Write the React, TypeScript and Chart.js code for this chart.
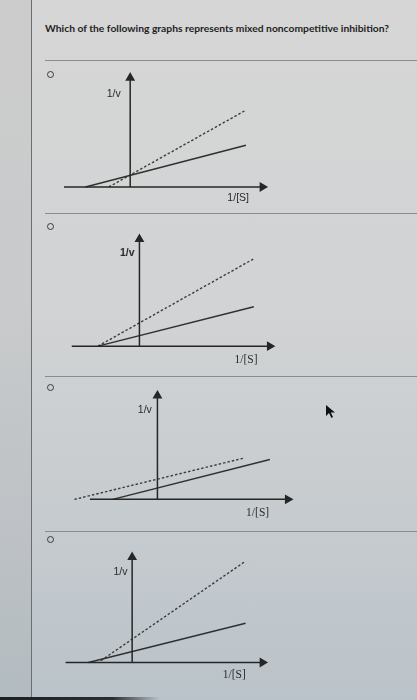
import { useEffect, useRef } from "react";
import { Chart, registerables, type Plugin } from "chart.js";

Chart.register(...registerables);

// Lineweaver-Burk sketches, in axis units (origin = where the two axes cross)
const axisA = { xFrom: -3.4, xTo: 6.8, yTo: 5.9 };
const solidA = [
  { x: -2.3, y: 0 },
  { x: 5.95, y: 2.25 },
];
const dashedA = [
  { x: -1.1, y: 0 },
  { x: 5.95, y: 4.15 },
];

const axisB = { xFrom: -3.48, xTo: 6.7, yTo: 5.75 };
const solidB = [
  { x: -2.13, y: 0 },
  { x: 5.88, y: 2.12 },
];
const dashedB = [
  { x: -2.13, y: 0 },
  { x: 5.88, y: 4.7 },
];

const axisC = { xFrom: -3.47, xTo: 6.7, yTo: 5.6 };
const solidC = [
  { x: -2.3, y: 0 },
  { x: 5.78, y: 2.15 },
];
const dashedC = [
  { x: -4.27, y: 0 },
  { x: 4.45, y: 2.23 },
];

const axisD = { xFrom: -3.42, xTo: 6.7, yTo: 5.65 };
const solidD = [
  { x: -2.25, y: 0 },
  { x: 5.83, y: 2.1 },
];
const dashedD = [
  { x: -1.6, y: 0.1 },
  { x: 5.75, y: 5.38 },
];

const yLabelPos = [
  { x: -0.85, y: 5.0 },
  { x: -0.63, y: 5.0 },
  { x: -0.65, y: 4.8 },
  { x: -0.6, y: 4.85 },
];
const xLabelPos = [
  { x: 5.55, y: -0.58 },
  { x: 5.48, y: -0.75 },
  { x: 5.15, y: -0.75 },
  { x: 5.25, y: -0.7 },
];

const QUESTION = "Which of the following graphs represents mixed noncompetitive inhibition?";

// page layout (pixels)
const UNIT = 20;
const PANELS = [
  { top: 61, height: 152, ox: 128, oy: 191, radio: 74, sansX: true, boldY: false },
  { top: 214, height: 162, ox: 137.5, oy: 350, radio: 226, sansX: false, boldY: true },
  { top: 377, height: 154, ox: 156, oy: 503, radio: 387, sansX: false, boldY: false },
  { top: 532, height: 165, ox: 130, oy: 666, radio: 539, sansX: false, boldY: false },
];
const SEPARATORS = [60, 213, 376, 531];

type Pt = { x: number; y: number };
type Axis = { xFrom: number; xTo: number; yTo: number };

interface PlotProps {
  index: number;
  axis: Axis;
  solid: Pt[];
  dashed: Pt[];
}

function LBPlot({ index, axis, solid, dashed }: PlotProps) {
  const canvasRef = useRef<HTMLCanvasElement>(null);
  const chartRef = useRef<Chart | null>(null);
  const p = PANELS[index];

  useEffect(() => {
    if (!canvasRef.current) return;

    const labels: Plugin<"scatter"> = {
      id: "axisLabels",
      afterDatasetsDraw(chart) {
        const { ctx, scales } = chart;
        ctx.save();
        ctx.fillStyle = "#2a2a2a";
        ctx.textAlign = "center";
        ctx.textBaseline = "middle";
        const yl = yLabelPos[index];
        ctx.font = `${p.boldY ? "bold " : ""}10.5px "Liberation Sans", Arial, sans-serif`;
        ctx.fillText("1/v", scales.x.getPixelForValue(yl.x), scales.y.getPixelForValue(yl.y));
        const xl = xLabelPos[index];
        ctx.font = p.sansX
          ? '10.5px "Liberation Sans", Arial, sans-serif'
          : '11.5px "Liberation Serif", "Times New Roman", serif';
        ctx.fillText("1/[S]", scales.x.getPixelForValue(xl.x), scales.y.getPixelForValue(xl.y));
        ctx.restore();
      },
    };

    const ink = "#262626";
    chartRef.current = new Chart(canvasRef.current, {
      type: "scatter",
      data: {
        datasets: [
          {
            data: [
              { x: axis.xFrom, y: 0 },
              { x: axis.xTo, y: 0 },
            ],
            showLine: true,
            borderColor: ink,
            backgroundColor: ink,
            borderWidth: 1.5,
            pointStyle: "triangle",
            pointRadius: [0, 4.2],
            rotation: 90,
          },
          {
            data: [
              { x: 0, y: 0 },
              { x: 0, y: axis.yTo },
            ],
            showLine: true,
            borderColor: ink,
            backgroundColor: ink,
            borderWidth: 1.5,
            pointStyle: "triangle",
            pointRadius: [0, 4.2],
          },
          {
            data: solid,
            showLine: true,
            borderColor: "#303030",
            borderWidth: 1.5,
            pointRadius: 0,
          },
          {
            data: dashed,
            showLine: true,
            borderColor: "#3c3c3c",
            borderWidth: 1.4,
            borderDash: [2.5, 2],
            pointRadius: 0,
          },
        ],
      },
      options: {
        animation: false,
        responsive: true,
        maintainAspectRatio: false,
        layout: { padding: 0 },
        events: [],
        plugins: { legend: { display: false }, tooltip: { enabled: false } },
        scales: {
          x: {
            type: "linear",
            display: false,
            min: -p.ox / UNIT,
            max: (417 - p.ox) / UNIT,
          },
          y: {
            type: "linear",
            display: false,
            min: -(p.top + p.height - p.oy) / UNIT,
            max: (p.oy - p.top) / UNIT,
          },
        },
      },
      plugins: [labels],
    });

    return () => {
      chartRef.current?.destroy();
    };
  }, [index, axis, solid, dashed]);

  return (
    <div style={{ position: "absolute", left: 0, top: p.top, width: 417, height: p.height }}>
      <canvas ref={canvasRef} />
    </div>
  );
}

function Radio({ cy }: { cy: number }) {
  return (
    <div
      style={{
        position: "absolute",
        left: 47,
        top: cy - 3.5,
        width: 5,
        height: 5,
        border: "1.3px solid #3a3a3a",
        borderRadius: "50%",
      }}
    />
  );
}

export default function App() {
  useEffect(() => {
    document.body.style.margin = "0";
  }, []);

  return (
    <div
      style={{
        position: "absolute",
        left: 0,
        top: 0,
        width: 417,
        height: 700,
        overflow: "hidden",
        background: "linear-gradient(180deg, #d6d6d6 0%, #d1d3d4 45%, #c6cbcf 75%, #bac3c9 100%)",
      }}
    >
      <div
        style={{
          position: "absolute",
          left: 0,
          top: 0,
          width: 32,
          height: 700,
          background: "rgba(90,90,90,0.07)",
        }}
      />
      <div style={{ position: "absolute", left: 31, top: 0, width: 1, height: 700, background: "#6e6e6e" }} />
      <div
        style={{
          position: "absolute",
          left: 45,
          top: 22,
          whiteSpace: "nowrap",
          fontFamily: "Lato, 'Open Sans', sans-serif",
          fontWeight: 700,
          fontSize: 10.3,
          color: "#1f1f1f",
        }}
      >
        {QUESTION}
      </div>
      {SEPARATORS.map((y) => (
        <div
          key={y}
          style={{ position: "absolute", left: 45, top: y, width: 372, height: 1, background: "#8c8c8c" }}
        />
      ))}
      {PANELS.map((p, i) => (
        <Radio key={i} cy={p.radio} />
      ))}
      <LBPlot index={0} axis={axisA} solid={solidA} dashed={dashedA} />
      <LBPlot index={1} axis={axisB} solid={solidB} dashed={dashedB} />
      <LBPlot index={2} axis={axisC} solid={solidC} dashed={dashedC} />
      <LBPlot index={3} axis={axisD} solid={solidD} dashed={dashedD} />
      <svg
        width={10}
        height={14}
        style={{ position: "absolute", left: 326, top: 405 }}
        viewBox="0 0 10 14"
      >
        <polygon points="0,0 0,11 3,8 5.5,13 7,12 4.8,7.5 9,7.5" fill="#111" />
      </svg>
      <div
        style={{
          position: "absolute",
          left: 0,
          top: 697,
          width: 160,
          height: 3,
          background: "linear-gradient(90deg, #1c1f22 0%, #2a2e32 70%, rgba(40,44,48,0) 100%)",
        }}
      />
    </div>
  );
}
